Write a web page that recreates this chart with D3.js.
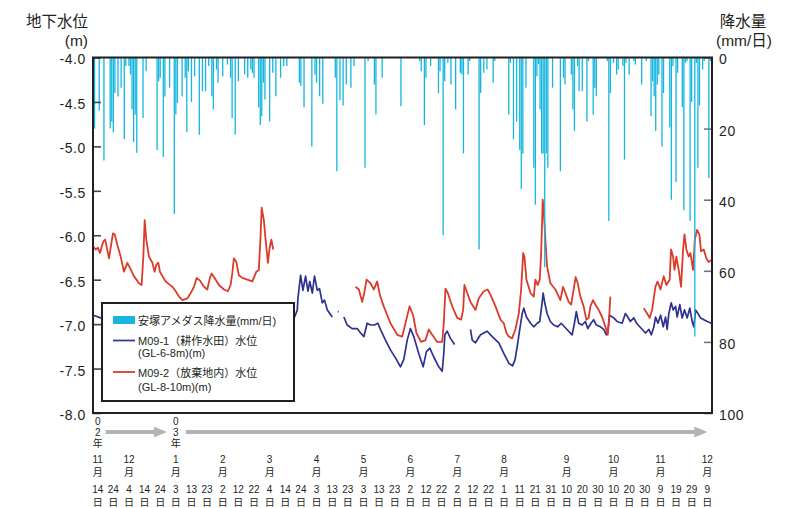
<!DOCTYPE html>
<html><head><meta charset="utf-8">
<script src="https://cdn.jsdelivr.net/npm/d3@7"></script>
<style>
body{margin:0;background:#fff}
svg{display:block}
text{font-family:"Liberation Sans","Noto Sans CJK JP",sans-serif;fill:#231f20}
</style>
</head><body>
<svg id="c" width="808" height="508"></svg>
<script>
// ---------------- DATA ----------------
const baseDate = "2002-11-14";           // day offsets below are counted from this date
const xDomain = ["2002-11-11", "2003-12-12"];

// daily precipitation (安塚アメダス, mm/日)
const rainDay = [-2,1,4,8,9,10,11,13,15,17,18,20,21,22,23,24,25,29,31,38,39,40,42,43,46,49,50,51,54,56,57,58,60,62,65,67,69,71,73,74,76,77,80,83,85,86,88,90,94,96,98,99,100,103,104,105,106,107,110,112,114,117,119,121,129,130,132,137,139,140,142,144,152,153,155,157,159,162,164,171,173,177,178,182,194,206,207,209,210,213,218,219,221,222,224,226,229,232,233,234,237,238,244,245,247,249,253,254,263,264,266,268,270,271,272,274,279,280,281,282,283,284,285,286,287,288,291,296,298,299,303,304,305,307,308,310,313,314,317,318,319,326,327,328,330,332,333,336,337,338,340,343,344,348,351,354,355,356,357,358,359,361,362,366,367,368,370,371,374,375,376,377,379,380,382,383,384,385,387,388,391,392];
const rainMM = [20,15,29,20,18,21,10,11,8.5,23,2.4,2.4,4.8,14.6,23.8,16,26.8,17,3.9,26,6.7,5.7,28,11,8.5,44,16,12.8,10.9,5.7,21,3.9,12.5,5.3,21.7,9.5,9.5,2.4,10.9,14.6,3.4,7.1,5.3,2,5.7,17,21.7,6.7,4.8,5.7,3.4,4.3,5.7,14,19,16.5,7.1,11.8,18,4.3,10.9,5.7,2.4,2.4,7.1,8,14,25,4.8,7.1,10.9,13,5.7,32,12,13.5,7.6,8.5,2.4,31,1,7.6,16,5.7,13.7,1,3.9,19,5.7,2.4,10,3.9,50,6.7,1.5,7.6,14.6,4.3,4.8,27,4.8,1,54,10,4.3,3.4,7.1,1,16,1.5,23,18,26,37,27,8.5,31,41.4,5.3,1.9,14.6,27,27,59,27,31,8.5,32,5.7,7.6,4.8,14.6,20.7,2.4,9.5,9.5,18,1,16,8.5,10.9,1,46,10,1.5,4.8,3.4,2.4,28.7,1.5,4.8,1,2,7.6,1,16.5,6.7,10.9,20.7,7.6,4.8,25,10,19.7,40,2.4,35,4.3,14,43,1.5,1,46,12.5,78.5,1.5,31,13.5,3.4,1,34,1];

// M09-1 (耕作水田) water level (m); null = missing record
const m1Day = [-2.75,1.9,20,45,70,95,115,126.0,127.7,128.1,129.8,131.3,133.0,134.5,135.7,137.3,138.7,140.5,141.9,143.7,145.1,146.9,148.5,150.1,151,153.6,154.2,155,157.5,159.6,162.8,166.0,168.2,170.3,172.4,174.5,177.1,179.2,180.9,184.1,187.3,190.5,193.7,195.8,198.0,200.1,202.2,205.4,208.2,210.3,212.5,215.0,218.2,220.4,221.4,222.1,223.6,225.7,228.3,230,238.5,239.6,241.7,244.9,249.2,252.4,256.6,259.8,263.0,265.4,267.0,268.4,270.0,271.6,272.6,274.3,276.9,279.0,281.2,282.8,284.3,285.0,286.0,287.5,289.6,291.7,294.3,296.5,298.6,301.3,303.5,305.0,306.2,307.7,309.9,312.0,313.5,315.6,317.3,319.0,321.6,323.7,325.4,326.3,327.5,330.1,332.3,335.5,337.6,339.1,340.8,343.0,344.7,346.8,348.4,350.5,352.6,354.2,355.8,356.9,358.4,360.1,361.8,363.3,364.3,365.4,366.9,368.2,369.7,370.7,372.4,373.9,375.4,377.1,378.8,380.3,381.4,382.5,384.0,385.7,387.8,390.0,392.5];
const m1Level = [-6.90,-6.93,-6.95,-6.97,-6.96,-6.98,-6.95,-6.92,-6.84,-6.71,-6.45,-6.62,-6.46,-6.63,-6.52,-6.65,-6.46,-6.62,-6.60,-6.76,-6.73,-6.84,-6.88,-6.92,null,-6.86,-6.86,null,-6.92,-7.01,-7.05,-7.05,-7.10,-7.14,-6.99,-7.01,-7.01,-6.99,-7.06,-7.18,-7.29,-7.38,-7.48,-7.40,-7.18,-7.05,-7.14,-7.33,-7.48,-7.31,-7.27,-7.37,-7.48,-7.53,-7.33,-7.12,-7.08,-7.16,-7.23,null,-7.06,-7.18,-7.21,-7.12,-7.08,-7.14,-7.21,-7.33,-7.44,-7.47,-7.40,-7.25,-7.06,-6.88,-6.82,-6.92,-6.99,-7.03,-6.99,-6.97,-6.76,-6.65,-6.76,-6.88,-6.97,-7.01,-7.03,-6.99,-7.03,-7.08,-7.12,-6.99,-6.86,-6.99,-7.01,-6.97,-7.05,-6.99,-6.95,-7.01,-7.03,-7.06,-7.12,-7.10,-6.90,-6.93,-6.97,-6.99,-6.88,-6.92,-6.97,-6.93,-6.99,-7.03,-7.06,-7.10,-7.06,-7.12,-7.03,-6.92,-6.99,-6.90,-7.03,-6.92,-7.06,-6.88,-6.76,-6.84,-6.80,-6.92,-6.78,-6.93,-6.84,-6.93,-6.82,-6.97,-7.03,-6.84,-6.88,-6.93,-6.95,-6.97,-6.99];

// M09-2 (放棄地内) water level (m); null = missing record
const m2Day = [-2.75,-1.28,0.19,1.47,2.56,3.64,4.8,7.22,8.31,9.78,10.87,12.6,14.7,16.8,19.0,20.7,23.2,26.4,28.1,29.2,30.05,31.1,32.8,35.0,36.4,37.5,38.8,39.8,41.4,43.5,45.6,47.8,49.9,52.0,54.2,57.4,59.5,61.6,63.3,65.4,68.0,70.1,71.8,72.9,74.8,77.6,80.8,83.3,85.0,86.1,87.1,88.7,90.3,92.5,95.7,98.9,99.9,101.5,103.1,104.2,104.9,106.3,107.4,108.9,110.0,111.1,112.3,140,164.95,167.1,169.2,170.3,172.0,174.5,176.7,178.8,180.5,183.0,187.3,191.6,194.8,196.9,199.5,201.8,203.9,206.9,209.7,211.8,214.0,217.2,220.4,221.4,222.5,224.0,226.8,230.0,232.5,233.8,234.6,236.4,238.5,241.7,243.8,247.0,249.5,251.3,254.5,257.7,259.8,261.5,263.0,265.1,267.2,269.4,270.9,272.2,273.0,274.3,276.9,279.0,280.0,281.5,282.8,283.7,284.7,285.3,286.4,287.5,289.6,292.8,296.0,297.7,299.2,301.3,302.9,304.5,305.8,307.1,308.8,310.9,312.6,314.1,315.2,316.9,318.4,320.5,322.7,324.8,326.3,327.2,328.0,340,349.3,351.5,353.1,354.7,356.8,358.2,360.0,362.1,363.8,365.9,366.8,368.1,369.0,370.2,371.7,373.2,374.5,375.4,376.6,378.1,379.2,380.9,382.0,383.4,384.9,386.0,387.7,389.4,390.9,392.4];
const m2Level = [-6.13,-6.16,-6.14,-6.20,-6.13,-6.07,-6.05,-6.26,-6.14,-5.98,-5.99,-6.11,-6.24,-6.41,-6.31,-6.37,-6.46,-6.54,-6.56,-6.24,-5.83,-6.05,-6.24,-6.31,-6.41,-6.33,-6.31,-6.41,-6.46,-6.52,-6.55,-6.58,-6.63,-6.69,-6.73,-6.71,-6.65,-6.58,-6.48,-6.51,-6.58,-6.61,-6.48,-6.43,-6.48,-6.56,-6.61,-6.63,-6.56,-6.43,-6.26,-6.30,-6.45,-6.48,-6.50,-6.52,-6.48,-6.41,-6.39,-6.01,-5.69,-5.83,-6.05,-6.31,-6.14,-6.05,-6.16,null,-6.58,-6.61,-6.75,-6.67,-6.50,-6.54,-6.61,-6.52,-6.67,-6.80,-6.99,-7.12,-7.14,-6.99,-6.80,-6.90,-7.10,-7.20,-7.18,-7.06,-7.12,-7.20,-7.20,-6.99,-6.60,-6.65,-6.80,-6.93,-6.95,-6.84,-6.56,-6.65,-6.75,-6.84,-6.71,-6.63,-6.61,-6.67,-6.80,-6.95,-6.99,-7.10,-7.14,-7.16,-7.06,-6.88,-6.61,-6.20,-6.24,-6.50,-6.65,-6.69,-6.50,-6.56,-6.50,-6.20,-5.60,-5.71,-6.05,-6.35,-6.54,-6.61,-6.73,-6.58,-6.65,-6.75,-6.78,-6.61,-6.47,-6.54,-6.69,-6.80,-6.95,-6.93,-6.80,-6.73,-6.78,-6.84,-6.92,-7.03,-7.12,-6.92,-6.69,null,-6.82,-6.88,-6.93,-6.84,-6.58,-6.52,-6.61,-6.46,-6.56,-6.50,-6.16,-6.24,-6.39,-6.24,-6.39,-6.58,-6.16,-5.99,-6.16,-6.24,-6.20,-6.39,-6.05,-5.94,-5.99,-6.18,-6.16,-6.26,-6.30,-6.28];

const levelTicks = [-4.0,-4.5,-5.0,-5.5,-6.0,-6.5,-7.0,-7.5,-8.0];
const rainTicks = [0,20,40,60,80,100];

const dayTickDates = ["2002-11-14","2002-11-24","2002-12-04","2002-12-14","2002-12-24","2003-01-03","2003-01-13","2003-01-23","2003-02-02","2003-02-12","2003-02-22","2003-03-04","2003-03-14","2003-03-24","2003-04-03","2003-04-13","2003-04-23","2003-05-03","2003-05-13","2003-05-23","2003-06-02","2003-06-12","2003-06-22","2003-07-02","2003-07-12","2003-07-22","2003-08-01","2003-08-11","2003-08-21","2003-08-31","2003-09-10","2003-09-20","2003-09-30","2003-10-10","2003-10-20","2003-10-30","2003-11-09","2003-11-19","2003-11-29","2003-12-09"];
const monthLabelDates = ["2002-11-14","2002-12-04","2003-01-03","2003-02-02","2003-03-04","2003-04-03","2003-05-03","2003-06-02","2003-07-02","2003-08-01","2003-09-10","2003-10-10","2003-11-09","2003-12-09"];
const monthLabels = ["11","12","1","2","3","4","5","6","7","8","9","10","11","12"];
const yearLabelDates = ["2002-11-14","2003-01-03"];
const yearLabels = ["02","03"];

const legendLabels = [["安塚アメダス降水量(mm/日)"],["M09-1（耕作水田）水位","(GL-6-8m)(m)"],["M09-2（放棄地内）水位","(GL-8-10m)(m)"]];

// ---------------- CHART ----------------
const C_RAIN = "#14b6de", C_M1 = "#2e3192", C_M2 = "#db3b2b", C_INK = "#231f20";
const svg = d3.select("#c");
const parse = d3.timeParse("%Y-%m-%d");
const base = parse(baseDate);
const dayToDate = d => new Date(base.getTime() + d * 864e5);

const L = 93, R = 712, T = 57.5, B = 413;
const x = d3.scaleTime().domain(xDomain.map(parse)).range([L, R]);
const yL = d3.scaleLinear().domain([-4, -8]).range([T, B]);
const yR = d3.scaleLinear().domain([0, 100]).range([T, B]);

// water level lines
const line = d3.line().defined(d => d[1] != null)
  .x(d => x(dayToDate(d[0]))).y(d => yL(d[1]));
svg.append("path").datum(d3.zip(m1Day, m1Level))
  .attr("d", line).attr("fill", "none").attr("stroke", C_M1)
  .attr("stroke-width", 1.7).attr("stroke-linejoin", "round");
svg.append("path").datum(d3.zip(m2Day, m2Level))
  .attr("d", line).attr("fill", "none").attr("stroke", C_M2)
  .attr("stroke-width", 1.8).attr("stroke-linejoin", "round");

// precipitation bars (hanging from top)
svg.append("g").selectAll("line").data(d3.zip(rainDay, rainMM)).join("line")
  .attr("x1", d => x(dayToDate(d[0]))).attr("x2", d => x(dayToDate(d[0])))
  .attr("y1", yR(0)).attr("y2", d => yR(d[1]))
  .attr("stroke", C_RAIN).attr("stroke-width", 1.3);

// axes
const axL = svg.append("g").attr("transform", `translate(${L},0)`)
  .call(d3.axisLeft(yL).tickValues(levelTicks).tickSize(-8).tickPadding(7).tickFormat(d => d.toFixed(1)));
axL.select(".domain").remove();
axL.selectAll("line").attr("stroke", "#444").attr("stroke-width", 1.6);
axL.selectAll("text").attr("font-size", 14).attr("fill", C_INK).attr("y", 2)
  .attr("font-family", "'Liberation Sans', sans-serif").attr("letter-spacing", 0.6);

const axR = svg.append("g").attr("transform", `translate(${R},0)`)
  .call(d3.axisRight(yR).tickValues(rainTicks).tickSize(-8).tickPadding(7));
axR.select(".domain").remove();
axR.selectAll("line").attr("stroke", "#777").attr("stroke-width", 1.6);
axR.selectAll("text").attr("font-size", 14).attr("fill", C_INK).attr("y", 2)
  .attr("font-family", "'Liberation Sans', sans-serif").attr("letter-spacing", 0.6);

// frame
svg.append("rect").attr("x", L).attr("y", T).attr("width", R - L).attr("height", B - T)
  .attr("fill", "none").attr("stroke", C_INK).attr("stroke-width", 2);

// axis titles
svg.append("text").attr("x", 88).attr("y", 27).attr("text-anchor", "end").attr("font-size", 15.5).text("地下水位");
svg.append("text").attr("x", 88).attr("y", 46).attr("text-anchor", "end").attr("font-size", 15.5).text("(m)");
svg.append("text").attr("x", 743).attr("y", 27).attr("text-anchor", "middle").attr("font-size", 15.5).text("降水量");
svg.append("text").attr("x", 744).attr("y", 46).attr("text-anchor", "middle").attr("font-size", 15.5).text("(mm/日)");

// x labels: vertically stacked, one text element per stack
const gx = svg.append("g").attr("font-size", 10).attr("text-anchor", "middle");
function stack(xx, rows) {
  const t = gx.append("text");
  rows.forEach(([s, yy]) => t.append("tspan").attr("x", xx).attr("y", yy).text(s));
}
dayTickDates.forEach(s => stack(x(parse(s)), [[String(+s.slice(8)), 493], ["日", 506]]));
monthLabelDates.forEach((s, i) => stack(x(parse(s)), [[monthLabels[i], 463], ["月", 475.5]]));
yearLabelDates.forEach((s, i) => stack(x(parse(s)),
  [[yearLabels[i][0], 424.5], [yearLabels[i][1], 435.7], ["年", 446.9]]));

// year arrows
const ay = 432, C_AR = "#b3b3b3";
function arrow(x0, x1) {
  svg.append("line").attr("x1", x0).attr("x2", x1 - 10).attr("y1", ay).attr("y2", ay)
    .attr("stroke", C_AR).attr("stroke-width", 4);
  svg.append("path").attr("d", `M${x1 - 13},${ay - 5.5}L${x1},${ay}L${x1 - 13},${ay + 5.5}Z`).attr("fill", C_AR);
}
const y0x = x(parse(yearLabelDates[0])), y1x = x(parse(yearLabelDates[1]));
arrow(y0x + 8, y1x - 9);
arrow(y1x + 10, x(parse(dayTickDates[dayTickDates.length - 1])));

// legend
const lg = svg.append("g");
lg.append("rect").attr("x", 102).attr("y", 303).attr("width", 192).attr("height", 98)
  .attr("fill", "#fff").attr("stroke", C_INK).attr("stroke-width", 2);
lg.append("rect").attr("x", 113).attr("y", 316).attr("width", 22).attr("height", 8).attr("fill", C_RAIN);
lg.append("line").attr("x1", 113).attr("x2", 135).attr("y1", 340.5).attr("y2", 340.5).attr("stroke", C_M1).attr("stroke-width", 1.7);
lg.append("line").attr("x1", 113).attr("x2", 135).attr("y1", 372).attr("y2", 372).attr("stroke", C_M2).attr("stroke-width", 1.8);
const ly = [[324.5], [344.5, 357], [376.5, 391]];
legendLabels.forEach((rows, i) => {
  const t = lg.append("text").attr("font-size", 11);
  rows.forEach((s, j) => t.append("tspan").attr("x", 138).attr("y", ly[i][j]).text(s));
});
</script>
</body></html>
